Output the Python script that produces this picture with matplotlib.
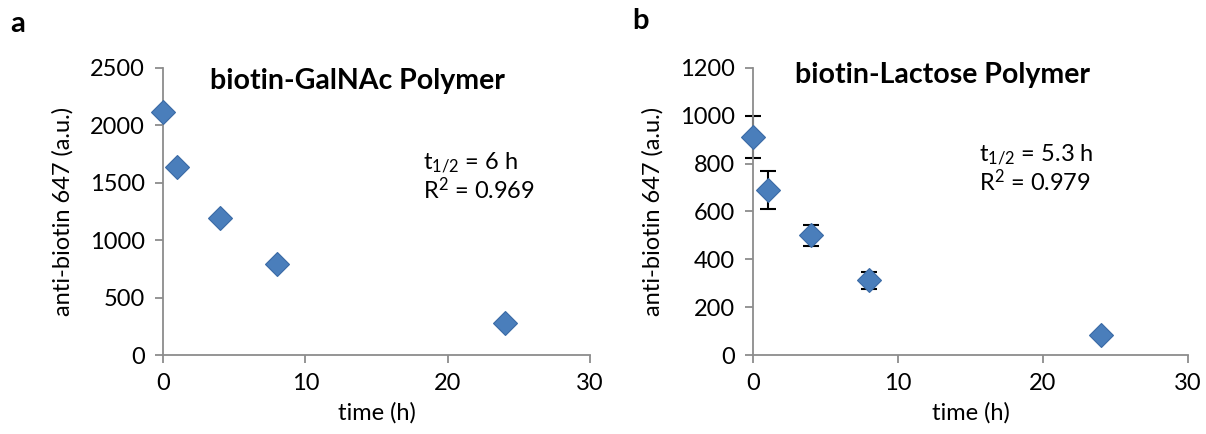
import matplotlib
matplotlib.use("Agg")
import matplotlib.pyplot as plt

plt.rcParams['font.family'] = ['Lato', 'DejaVu Sans']

time_h = [0, 1, 4, 8, 24]
galnac_signal = [2120, 1635, 1195, 795, 275]
lactose_signal = [910, 690, 500, 312, 85]
lactose_err = [88, 78, 44, 37, 5]

x_ticks = [0, 10, 20, 30]
galnac_yticks = [0, 500, 1000, 1500, 2000, 2500]
lactose_yticks = [0, 200, 400, 600, 800, 1000, 1200]

fig = plt.figure(figsize=(12.06, 4.34), dpi=100)
ax1 = fig.add_axes([163/1206, 1-355/434, 427/1206, 287/434])
ax2 = fig.add_axes([753/1206, 1-355/434, 435/1206, 287/434])

mcol = '#4a7ebb'
ecol = '#3a6aa5'
axcol = '#8c8c8c'

def style(ax, yticks):
    for s in ['top', 'right']:
        ax.spines[s].set_visible(False)
    for s in ['left', 'bottom']:
        ax.spines[s].set_color(axcol)
        ax.spines[s].set_linewidth(1.3)
    ax.set_xlim(0, 30)
    ax.set_ylim(yticks[0], yticks[-1])
    ax.set_xticks(x_ticks)
    ax.set_yticks(yticks)
    ax.tick_params(direction='out', length=6, width=1.3, color=axcol,
                   labelsize=17, pad=7)
    ax.set_xlabel('time (h)', fontsize=17, labelpad=6)
    ax.set_ylabel('anti-biotin 647 (a.u.)', fontsize=17, labelpad=12)
    for sp in ax.spines.values():
        sp.set_clip_on(False)

style(ax1, galnac_yticks)
style(ax2, lactose_yticks)

ax1.plot(time_h, galnac_signal, linestyle='none', marker='D', ms=12,
         color=mcol, mec=ecol, mew=0.8, clip_on=False, zorder=3)
ax2.errorbar(time_h, lactose_signal, yerr=lactose_err, linestyle='none',
             ecolor='black', elinewidth=1.5, capsize=6, capthick=1.5,
             zorder=2, clip_on=False)
ax2.plot(time_h, lactose_signal, linestyle='none', marker='D', ms=12,
         color=mcol, mec=ecol, mew=0.8, clip_on=False, zorder=3)

ax1.text(0.11, 0.955, 'biotin-GalNAc Polymer', transform=ax1.transAxes,
         fontsize=20.5, fontweight='bold', ha='left', va='center')
ax2.text(0.097, 0.975, 'biotin-Lactose Polymer', transform=ax2.transAxes,
         fontsize=20.5, fontweight='bold', ha='left', va='center')

ax1.text(0.61, 0.67, r'$\mathregular{t_{1/2}}$ = 6 h', transform=ax1.transAxes,
         fontsize=17, ha='left', va='center')
ax1.text(0.61, 0.575, r'R$\mathregular{^2}$ = 0.969', transform=ax1.transAxes,
         fontsize=17, ha='left', va='center')
ax2.text(0.52, 0.70, r'$\mathregular{t_{1/2}}$ = 5.3 h', transform=ax2.transAxes,
         fontsize=17, ha='left', va='center')
ax2.text(0.52, 0.605, r'R$\mathregular{^2}$ = 0.979', transform=ax2.transAxes,
         fontsize=17, ha='left', va='center')

fig.text(10/1206, 1-24/434, 'a', fontsize=21, fontweight='bold', va='center')
fig.text(632/1206, 1-21/434, 'b', fontsize=21, fontweight='bold', va='center')

fig.savefig('out.png', dpi=100)
